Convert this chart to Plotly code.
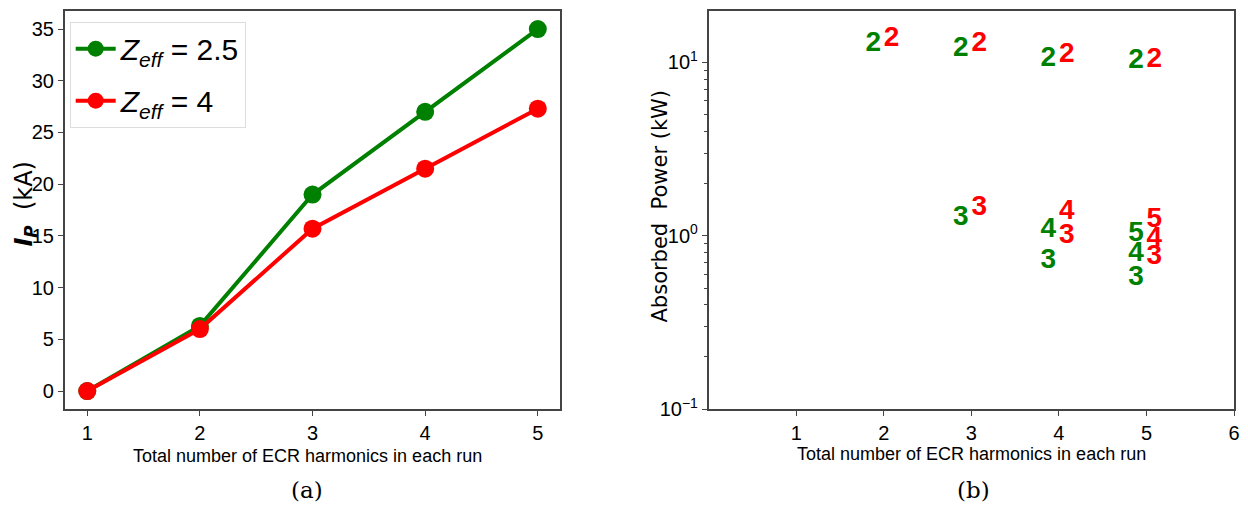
import plotly.graph_objects as go

# ---------------- data ----------------
harmonics = [1, 2, 3, 4, 5]
ip_zeff_25 = [0.0, 6.3, 19.0, 27.0, 35.0]
ip_zeff_4 = [0.0, 6.0, 15.7, 21.5, 27.3]

# panel (b): absorbed power (kW) per harmonic, for runs with N harmonics
runs_h2 = [2, 3, 4, 5]
green_h2 = [12.8, 12.0, 10.5, 10.2]
red_h2 = [13.6, 12.8, 11.0, 10.3]
runs_h3 = [3, 4, 5]
green_h3 = [1.27, 0.72, 0.57]
red_h3 = [1.45, 1.0, 0.75]
runs_h4 = [4, 5]
green_h4 = [1.08, 0.79]
red_h4 = [1.37, 0.96]
runs_h5 = [5]
green_h5 = [1.02]
red_h5 = [1.24]

left_ticks = [0, 5, 10, 15, 20, 25, 30, 35]
right_xticks = [1, 2, 3, 4, 5, 6]

GREEN = "#008000"
RED = "#ff0000"
SANS = "Liberation Sans, Arial, sans-serif"

fig = go.Figure()

fig.add_trace(go.Scatter(
    x=harmonics, y=ip_zeff_25, mode="lines+markers",
    name="<i>Z</i><sub><i>eff</i></sub> = 2.5", legendgroup="a",
    line=dict(color=GREEN, width=4), marker=dict(color=GREEN, size=18),
    xaxis="x", yaxis="y"))
fig.add_trace(go.Scatter(
    x=harmonics, y=ip_zeff_4, mode="lines+markers",
    name="<i>Z</i><sub><i>eff</i></sub> = 4", legendgroup="b",
    line=dict(color=RED, width=4), marker=dict(color=RED, size=18),
    xaxis="x", yaxis="y"))

G_OFF, R_OFF = -0.12, 0.09
groups = [
    (runs_h2, green_h2, red_h2, "2"),
    (runs_h3, green_h3, red_h3, "3"),
    (runs_h4, green_h4, red_h4, "4"),
    (runs_h5, green_h5, red_h5, "5"),
]
for runs, gv, rv, lab in groups:
    fig.add_trace(go.Scatter(
        x=[r + G_OFF for r in runs], y=gv, mode="text", text=[lab] * len(runs),
        textposition="middle center", showlegend=False,
        textfont=dict(color=GREEN, size=28, family=SANS, weight="bold"),
        xaxis="x2", yaxis="y2"))
    fig.add_trace(go.Scatter(
        x=[r + R_OFF for r in runs], y=rv, mode="text", text=[lab] * len(runs),
        textposition="middle center", showlegend=False,
        textfont=dict(color=RED, size=28, family=SANS, weight="bold"),
        xaxis="x2", yaxis="y2"))

axis_common = dict(showline=True, mirror=True, linecolor="#444", linewidth=1.5,
                   ticks="outside", ticklen=5, tickcolor="#444", showgrid=False,
                   zeroline=False, tickfont=dict(family=SANS, size=20, color="black"))

fig.update_layout(
    width=1248, height=512,
    margin=dict(l=0, r=0, t=0, b=0),
    paper_bgcolor="white", plot_bgcolor="white",
    xaxis=dict(domain=[57 / 1248, 555 / 1248], range=[0.8, 5.2],
               tickvals=harmonics, anchor="y", **axis_common),
    yaxis=dict(domain=[1 - 410 / 512, 1 - 3 / 512], range=[-1.75, 36.75],
               tickvals=left_ticks, anchor="x", **axis_common),
    xaxis2=dict(domain=[704 / 1248, 1232 / 1248], range=[0, 6],
                tickvals=right_xticks, anchor="y2", **axis_common),
    yaxis2=dict(domain=[1 - 410 / 512, 1 - 3 / 512], type="log", range=[-1, 1.297],
                tickvals=[0.1, 1, 10],
                ticktext=["10<sup>−1</sup>", "10<sup>0</sup>", "10<sup>1</sup>"],
                minor=dict(ticks="outside", ticklen=3, tickcolor="#444",
                           tickvals=[0.2, 0.3, 0.4, 0.5, 0.6, 0.7, 0.8, 0.9,
                                     2, 3, 4, 5, 6, 7, 8, 9]),
                anchor="x2", **axis_common),
    showlegend=True,
    legend=dict(x=62 / 1248, y=1 - 14 / 512, xanchor="left", yanchor="top",
                bgcolor="white", bordercolor="#ddd", borderwidth=1,
                font=dict(family=SANS, size=30, color="black"),
                itemwidth=40, tracegroupgap=10),
)

def note(text, x, y, size, family=SANS, angle=0):
    return dict(text=text, x=x / 1248, y=1 - y / 512, xref="paper", yref="paper",
                xanchor="center", yanchor="middle", showarrow=False, textangle=angle,
                font=dict(family=family, size=size, color="black"))

ann = [
    note("Total number of ECR harmonics in each run", 301, 458, 18),
    note("Total number of ECR harmonics in each run", 968, 456, 18),
    note("<b><i>I</i></b><sub><b><i>P</i></b></sub>  (kA)", 18, 200, 24, "DejaVu Sans", -90),
    note("Absorbed  Power (kW)", 655, 202, 21, "DejaVu Sans", -90),
    note("(a)", 300, 493, 23, "DejaVu Serif"),
    note("(b)", 970, 493, 23, "DejaVu Serif"),
]
fig.update_layout(annotations=ann)

fig.write_html("out.html")
